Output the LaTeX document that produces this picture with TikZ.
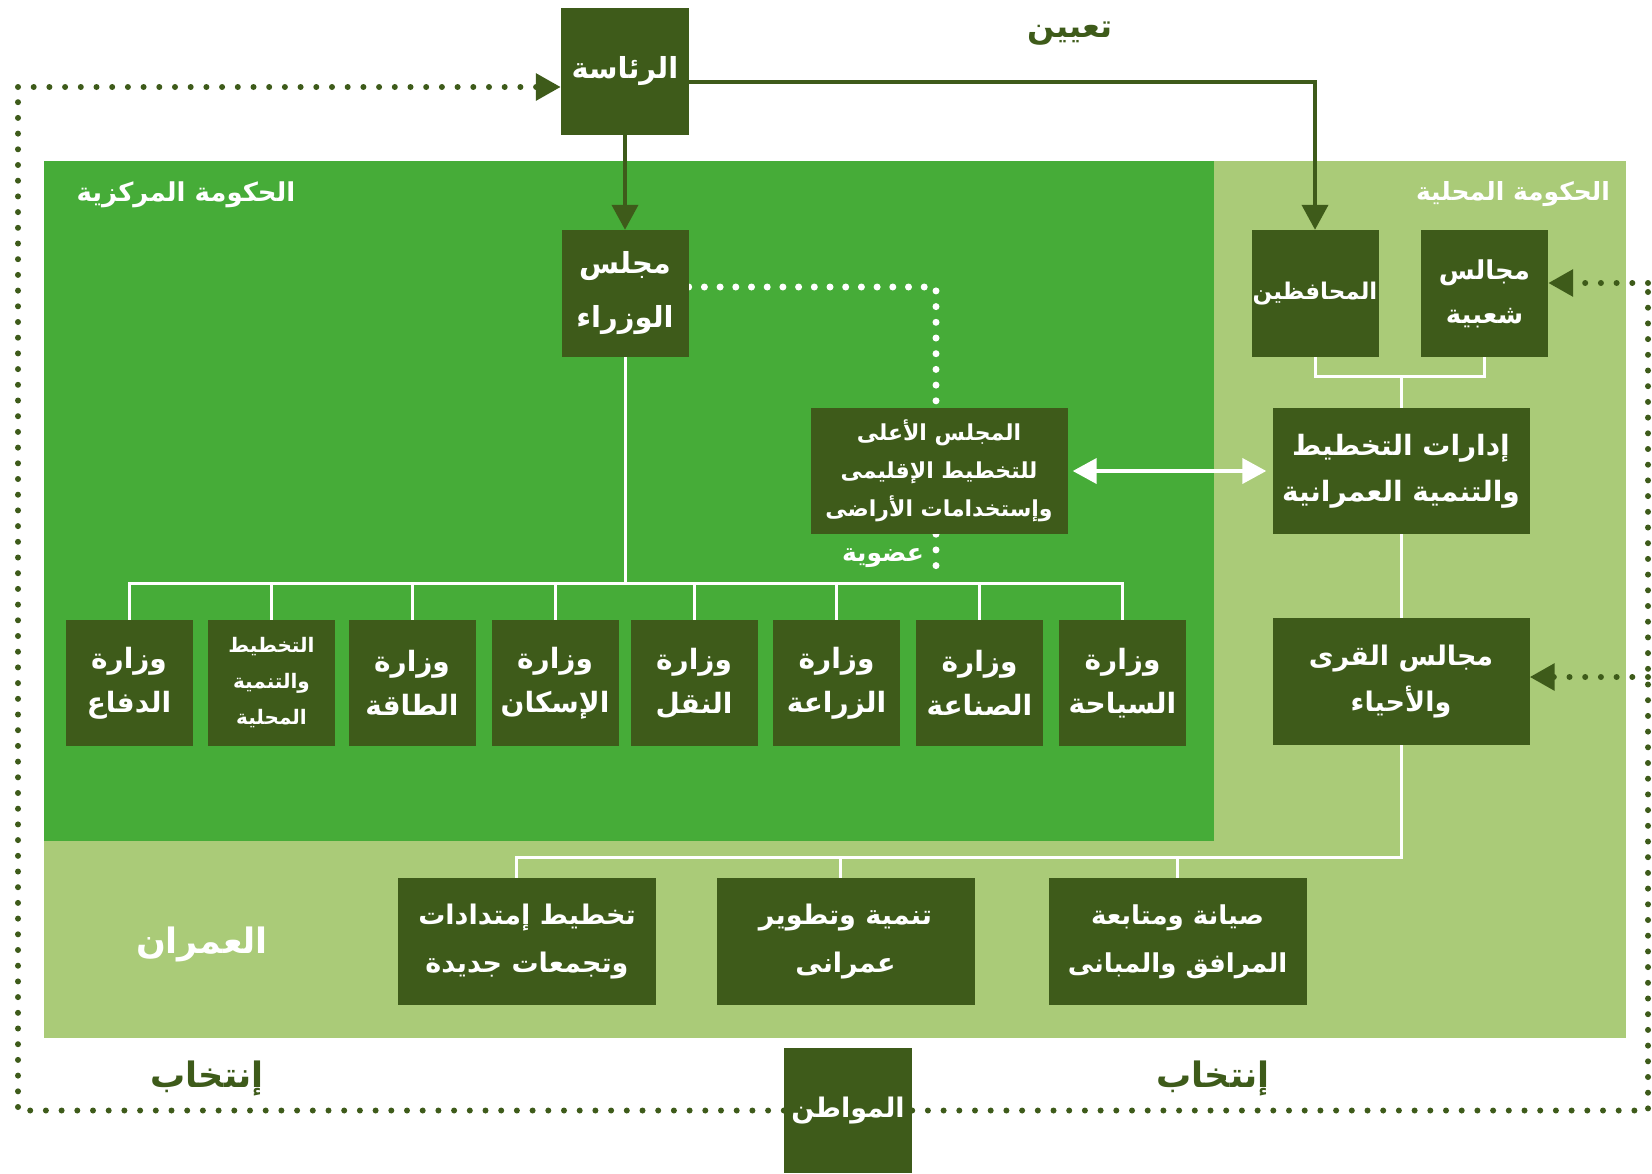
\documentclass[tikz,border=0pt]{standalone}
\usepackage{fontspec}
\usetikzlibrary{arrows.meta}
\TeXXeTstate=1
\newfontfamily\arabicfont[Script=Arabic]{DejaVu Sans}
\newcommand{\ar}[1]{\beginR #1\endR}
\newcommand{\fs}[2]{\arabicfont\bfseries\fontsize{#1}{#2}\selectfont}
\definecolor{dkgreen}{HTML}{3E5B1A}
\definecolor{mdgreen}{HTML}{46AC38}
\definecolor{ltgreen}{HTML}{AACB78}
\pgfdeclarelayer{panel}
\pgfdeclarelayer{lines}
\pgfsetlayers{panel,lines,main}
\tikzset{
  box/.style={fill=dkgreen, text=white, inner sep=0pt, align=center,
    minimum width=127, minimum height=127, font=\fs{28}{44}},
  widebox/.style={box, minimum width=257},
  lbl/.style={inner sep=0pt},
  dkline/.style={draw=dkgreen, line width=4},
  dktip/.style={-{Triangle[length=25pt,width=26pt]}},
  dkdot/.style={draw=dkgreen, line width=6, line cap=round, dash pattern=on 0pt off 15.7pt},
  whdot/.style={draw=white, line width=7, line cap=round, dash pattern=on 0pt off 15.7pt},
  wline/.style={draw=white, line width=3},
}
\begin{document}
\begin{tikzpicture}[x=1pt,y=-1pt]
\useasboundingbox (0,0) rectangle (1652,1173);
% panels
\begin{pgfonlayer}{panel}
  \fill[white] (0,0) rectangle (1652,1173);
  \fill[ltgreen] (44,161) rectangle (1626,1038);
  \fill[mdgreen] (44,161) rectangle (1214,841);
\end{pgfonlayer}

% top nodes
\node[box, minimum width=128, font=\fs{29}{44}] (pres) at (625,71.5) {\ar{الرئاسة}};
\node[box, font=\fs{29}{54}] (cab) at (625,293.5) {\ar{مجلس}\\\ar{الوزراء}};
\node[box, font=\fs{23}{40}] (gov) at (1315,293.5) {\ar{المحافظين}};
\node[box, font=\fs{26}{44}] (pop) at (1484.5,293.5) {\ar{مجالس}\\\ar{شعبية}};
\node[widebox, minimum height=126, font=\fs{22}{38}] (sup) at (939,471)
  {\ar{المجلس الأعلى}\\\ar{للتخطيط الإقليمى}\\\ar{وإستخدامات الأراضى}};
\node[widebox, minimum height=126, font=\fs{28}{46}] (pdept) at (1401,471)
  {\ar{إدارات التخطيط}\\\ar{والتنمية العمرانية}};
\node[widebox, font=\fs{27}{46}] (vil) at (1401,681.5) {\ar{مجالس القرى}\\\ar{والأحياء}};

% ministries
\node[box, minimum height=126] (m1) at (129,683) {\ar{وزارة}\\\ar{الدفاع}};
\node[box, minimum height=126, font=\fs{20}{36}] (m2) at (271.5,683) {\ar{التخطيط}\\\ar{والتنمية}\\\ar{المحلية}};
\node[box, minimum height=126] (m3) at (412,683) {\ar{وزارة}\\\ar{الطاقة}};
\node[box, minimum height=126] (m4) at (555,683) {\ar{وزارة}\\\ar{الإسكان}};
\node[box, minimum height=126] (m5) at (694,683) {\ar{وزارة}\\\ar{النقل}};
\node[box, minimum height=126] (m6) at (836.5,683) {\ar{وزارة}\\\ar{الزراعة}};
\node[box, minimum height=126] (m7) at (979.5,683) {\ar{وزارة}\\\ar{الصناعة}};
\node[box, minimum height=126] (m8) at (1122.5,683) {\ar{وزارة}\\\ar{السياحة}};

% urban boxes
\node[widebox, minimum width=258, font=\fs{27}{48}] (u1) at (527,941.5) {\ar{تخطيط إمتدادات}\\\ar{وتجمعات جديدة}};
\node[widebox, minimum width=258, font=\fs{27}{48}] (u2) at (845.5,941.5) {\ar{تنمية وتطوير}\\\ar{عمرانى}};
\node[widebox, minimum width=258, font=\fs{26}{48}] (u3) at (1177.5,941.5) {\ar{صيانة ومتابعة}\\\ar{المرافق والمبانى}};

% citizen
\node[box, minimum width=128, minimum height=125, font=\fs{27}{40}] (cit) at (848,1110.5) {\ar{المواطن}};

% labels
\node[lbl, text=dkgreen, font=\fs{32}{40}] (tayin) at (1070,34) {\ar{تعيين}};
\node[lbl, text=white, font=\fs{26}{32}] (cgov) at (186,195) {\ar{الحكومة المركزية}};
\node[lbl, text=white, font=\fs{25}{32}] (lgov) at (1513,194) {\ar{الحكومة المحلية}};
\node[lbl, text=white, font=\fs{35}{40}] (omran) at (202,944) {\ar{العمران}};
\node[lbl, text=dkgreen, font=\fs{35}{40}] (elec1) at (207,1078) {\ar{إنتخاب}};
\node[lbl, text=dkgreen, font=\fs{35}{40}] (elec2) at (1213,1078) {\ar{إنتخاب}};
\node[lbl, text=white, font=\fs{25}{30}] (memb) at (883,558) {\ar{عضوية}};

\coordinate (tl) at (18,87);
\coordinate (tr) at (1648,283);
\coordinate (mr) at (1648,677);
\coordinate (appt) at (1315,82);
\coordinate (cabdot) at (936,287);
\coordinate (membend) at (936,572);
\coordinate (bus) at (625,583);
\coordinate (lbus) at (1401,376);
\coordinate (ubus) at (1401,857);

\begin{pgfonlayer}{lines}
  % dark connectors
  \draw[dkline, dktip] (pres.south) -- (cab.north);
  \draw[dkline, dktip] (pres.east |- appt) -- (appt) -- (gov.north);
  % dotted election lines
  \draw[dkdot] (cit.west) -| (tl);
  \draw[dkdot, dktip] (tl) -- (tl -| pres.west);
  \draw[dkdot] (cit.east) -| (tr);
  \draw[dkdot, dktip] (tr) -- (tr -| pop.east);
  \draw[dkdot, dktip] (mr) -- (mr -| vil.east);
  % white dotted membership
  \draw[whdot] (cab.east |- cabdot) -- (cabdot) -- (cabdot |- sup.north);
  \draw[whdot] (sup.south -| membend) -- (membend);
  % white double arrow
  \draw[draw=white, line width=4, {Triangle[length=24pt,width=25pt]}-{Triangle[length=24pt,width=25pt]}, shorten <=5pt, shorten >=6pt] (sup.east) -- (pdept.west);
  % ministries tree
  \draw[wline] (cab.south) -- (bus);
  \draw[wline] (m1.north) |- (bus) -| (m8.north);
  \foreach \m in {m2,m3,m4,m5,m6,m7} \draw[wline] (\m.north) -- (\m.north |- bus);
  % local government tree
  \draw[wline] (gov.south) |- (lbus) -| (pop.south);
  \draw[wline] (lbus) -- (pdept.north);
  \draw[wline] (pdept.south) -- (vil.north);
  \draw[wline] (vil.south) -- (ubus) -| ([xshift=-11pt]u1.north);
  \draw[wline] ([xshift=-5pt]u2.north) -- ([xshift=-5pt]u2.north |- ubus);
  \draw[wline] (u3.north) -- (u3.north |- ubus);
\end{pgfonlayer}
\end{tikzpicture}
\end{document}
